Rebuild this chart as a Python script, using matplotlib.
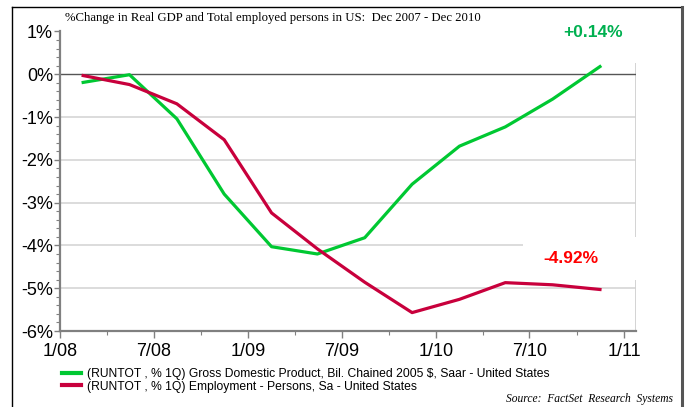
import matplotlib.pyplot as plt
import matplotlib.dates as mdates
from matplotlib.lines import Line2D
from matplotlib.patches import Rectangle
from matplotlib.ticker import MultipleLocator, FuncFormatter
import datetime as dt

# quarterly points, plotted at mid-quarter
dates = [dt.date(2008, 2, 15), dt.date(2008, 5, 15), dt.date(2008, 8, 15), dt.date(2008, 11, 15),
         dt.date(2009, 2, 15), dt.date(2009, 5, 15), dt.date(2009, 8, 15), dt.date(2009, 11, 15),
         dt.date(2010, 2, 15), dt.date(2010, 5, 15), dt.date(2010, 8, 15), dt.date(2010, 11, 15)]
gdp = [-0.19, -0.01, -1.04, -2.8, -4.03, -4.2, -3.82, -2.57, -1.68, -1.23, -0.58, 0.18]
emp = [-0.03, -0.24, -0.69, -1.53, -3.24, -4.08, -4.86, -5.57, -5.26, -4.87, -4.92, -5.03]

gdp_label = r'(RUNTOT , % 1Q) Gross Domestic Product, Bil. Chained 2005 \$, Saar - United States'
emp_label = '(RUNTOT , % 1Q) Employment - Persons, Sa - United States'
title = '%Change in Real GDP and Total employed persons in US:  Dec 2007 - Dec 2010'

green = '#00C832'
red = '#C8003C'

plt.rcParams['font.family'] = ['Liberation Sans', 'DejaVu Sans']

fig = plt.figure(figsize=(6.88, 4.07), dpi=100)
ax = fig.add_axes([60 / 688, 1 - 331 / 407, 576 / 688, 299.5 / 407])

ax.plot(dates, gdp, color=green, lw=2.3, label=gdp_label, zorder=4)
ax.plot(dates, emp, color=red, lw=2.3, label=emp_label, zorder=4)

ax.set_ylim(-6, 1)
ax.set_xlim(dt.date(2008, 1, 1), dt.date(2011, 1, 24))

for v in [1, -1, -2, -3, -4, -5]:
    ax.axhline(v, color='#d9d9d9', lw=1.3, zorder=1)
ax.axhline(0, color='#555555', lw=1.0, zorder=2)
ax.axvline(dt.date(2011, 1, 24), color='#d0d0d0', lw=1.3, zorder=1)

ax.yaxis.set_major_locator(MultipleLocator(1))
ax.yaxis.set_minor_locator(MultipleLocator(0.2))
ax.yaxis.set_major_formatter(FuncFormatter(lambda v, p: '%d%%' % round(v)))
ax.xaxis.set_major_locator(mdates.MonthLocator(bymonth=[1, 7]))
ax.xaxis.set_minor_locator(mdates.MonthLocator(bymonth=[4, 10]))
ax.xaxis.set_major_formatter(FuncFormatter(
    lambda v, p: '%d/%02d' % (mdates.num2date(v).month, mdates.num2date(v).year % 100)))

for s in ['top', 'right']:
    ax.spines[s].set_visible(False)
for s in ['left', 'bottom']:
    ax.spines[s].set_color('#808080')
    ax.spines[s].set_linewidth(1.6)

ax.tick_params(which='major', length=4, width=1, color='#808080', labelsize=13, pad=1)
ax.tick_params(which='minor', length=3, width=0.8, color='#808080')
ax.tick_params(axis='x', which='major', length=5, pad=4)

# white patches behind the end labels
ax.add_patch(Rectangle((0.835, 0.895), 0.181, 0.18, transform=ax.transAxes, fc='white',
                       ec='none', clip_on=False, zorder=3))
ax.add_patch(Rectangle((0.804, 0.170), 0.212, 0.144, transform=ax.transAxes, fc='white',
                       ec='none', clip_on=False, zorder=3))
ax.text(0.925, 0.995, '+0.14%', transform=ax.transAxes, ha='center', va='center',
        color='#00B050', fontsize=12.5, fontweight='bold', clip_on=False, zorder=5)
ax.text(0.887, 0.241, '-4.92%', transform=ax.transAxes, ha='center', va='center',
        color='#FF0000', fontsize=12.5, fontweight='bold', zorder=5)

fig.text(65 / 688, 1 - 18 / 407, title, family='Liberation Serif', fontsize=9.2,
         ha='left', va='center')

fig.legend(handles=[Line2D([], [], color=green, lw=3), Line2D([], [], color=red, lw=3)],
           labels=[gdp_label, emp_label], loc='upper left',
           bbox_to_anchor=(56 / 688, 1 - 362 / 407), frameon=False, fontsize=8.7,
           handlelength=1.6, handletextpad=0.5, labelspacing=0.05, borderpad=0)

fig.text(673 / 688, 1 - 399 / 407, 'Source:  FactSet  Research  Systems', family='Liberation Serif',
         style='italic', fontsize=8.3, ha='right', va='center')

# outer frame
fig.add_artist(Line2D([12 / 688, 12 / 688], [0, 1 - 7 / 407], color='black', lw=1.0,
                      transform=fig.transFigure))
fig.add_artist(Line2D([12 / 688, 682 / 688], [1 - 7 / 407, 1 - 7 / 407], color='black', lw=1.0,
                      transform=fig.transFigure))
fig.add_artist(Line2D([682 / 688, 682 / 688], [0, 1 - 7 / 407], color='#555555', lw=2.2,
                      transform=fig.transFigure))

fig.savefig('out.png', dpi=100)
